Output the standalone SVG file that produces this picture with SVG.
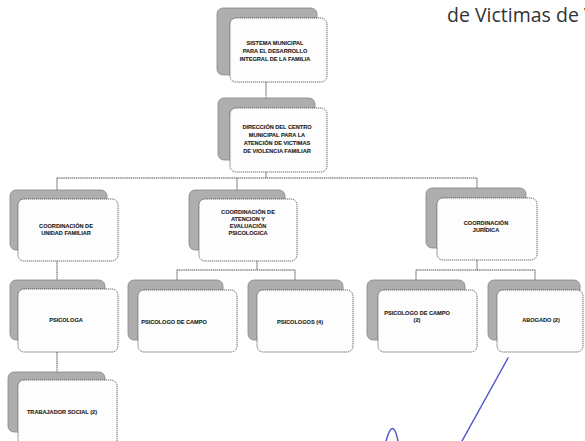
<svg xmlns="http://www.w3.org/2000/svg" width="585" height="441" viewBox="0 0 585 441">
<style>
.bk{fill:#aeaeae;stroke:#858585;stroke-width:0.8}
.fr{fill:#fdfdfd;stroke:#4a4a4a;stroke-width:0.8;stroke-dasharray:1.3 0.7}
.t{font-family:"Liberation Sans",Arial,sans-serif;font-weight:bold;font-size:5.6px;fill:#1e1e1e;stroke:#1e1e1e;stroke-width:0.12;text-anchor:middle}
.c{fill:none;stroke:#444;stroke-width:0.9;stroke-dasharray:1.5 0.6}
</style>
<rect width="585" height="441" fill="#ffffff"/>
<text x="447" y="22" font-family="'Open Sans','Liberation Sans',sans-serif" font-size="19.5" fill="#333">de Victimas de V</text>
<g id="connectors">
<path class="c" d="M266,82V98M266,172V178M57,178H477M57,178V190M237,178V190M477,178V188"/>
<path class="c" d="M57,261V280M257,261V270M177,270H295M177,270V280M295,270V280"/>
<path class="c" d="M477,260V270M416,270H535M416,270V280M535,270V280M57,352V372"/>
</g>
<g id="n1"><rect class="bk" x="217" y="8" width="100" height="67" rx="6"/><rect class="fr" x="230" y="18" width="97" height="64" rx="6"/>
<text class="t" x="275" y="45">SISTEMA MUNICIPAL</text><text class="t" x="275" y="53">PARA EL DESARROLLO</text><text class="t" x="275" y="61">INTEGRAL DE LA FAMILIA</text></g>
<g id="n2"><rect class="bk" x="218" y="98" width="97" height="62" rx="6"/><rect class="fr" x="230" y="108" width="97" height="64" rx="6"/>
<text class="t" x="277" y="129">DIRECCIÓN DEL CENTRO</text><text class="t" x="277" y="137">MUNICIPAL PARA LA</text><text class="t" x="277" y="145">ATENCIÓN DE VICTIMAS</text><text class="t" x="277" y="153">DE VIOLENCIA FAMILIAR</text></g>
<g id="n3"><rect class="bk" x="10" y="190" width="97" height="60" rx="6"/><rect class="fr" x="18" y="199" width="100" height="62" rx="6"/>
<text class="t" x="66" y="228">COORDINACIÓN DE</text><text class="t" x="66" y="235">UNIDAD FAMILIAR</text></g>
<g id="n4"><rect class="bk" x="189" y="190" width="96" height="60" rx="6"/><rect class="fr" x="199" y="199" width="98" height="62" rx="6"/>
<text class="t" x="248" y="214">COORDINACIÓN DE</text><text class="t" x="248" y="221">ATENCION Y</text><text class="t" x="248" y="228">EVALUACIÓN</text><text class="t" x="248" y="235">PSICOLOGICA</text></g>
<g id="n5"><rect class="bk" x="426" y="188" width="100" height="60" rx="6"/><rect class="fr" x="437" y="198" width="100" height="62" rx="6"/>
<text class="t" x="486" y="225">COORDINACIÓN</text><text class="t" x="486" y="232">JURÍDICA</text></g>
<g id="n6"><rect class="bk" x="10" y="280" width="95" height="60" rx="6"/><rect class="fr" x="18" y="289" width="100" height="63" rx="6"/>
<text class="t" x="66" y="322">PSICOLOGA</text></g>
<g id="n7"><rect class="bk" x="128" y="280" width="95" height="60" rx="6"/><rect class="fr" x="138" y="290" width="99" height="62" rx="6"/>
<text class="t" x="174" y="324">PSICOLOGO DE CAMPO</text></g>
<g id="n8"><rect class="bk" x="248" y="280" width="95" height="60" rx="6"/><rect class="fr" x="257" y="290" width="96" height="62" rx="6"/>
<text class="t" x="300" y="324">PSICOLOGOS (4)</text></g>
<g id="n9"><rect class="bk" x="367" y="280" width="98" height="60" rx="6"/><rect class="fr" x="378" y="290" width="99" height="62" rx="6"/>
<text class="t" x="417" y="315">PSICOLOGO DE CAMPO</text><text class="t" x="417" y="322">(2)</text></g>
<g id="n10"><rect class="bk" x="488" y="280" width="92" height="60" rx="6"/><rect class="fr" x="497" y="290" width="86" height="62" rx="6"/>
<text class="t" x="541" y="322">ABOGADO (2)</text></g>
<g id="n11"><rect class="bk" x="8" y="372" width="97" height="60" rx="6"/><rect class="fr" x="18" y="380" width="99" height="70" rx="6"/>
<text class="t" x="62" y="414">TRABAJADOR SOCIAL (2)</text></g>
<path d="M508,358L462,441M386,441Q393,416 398,441" fill="none" stroke="#5257c9" stroke-width="1.5" stroke-linecap="round"/>
</svg>
